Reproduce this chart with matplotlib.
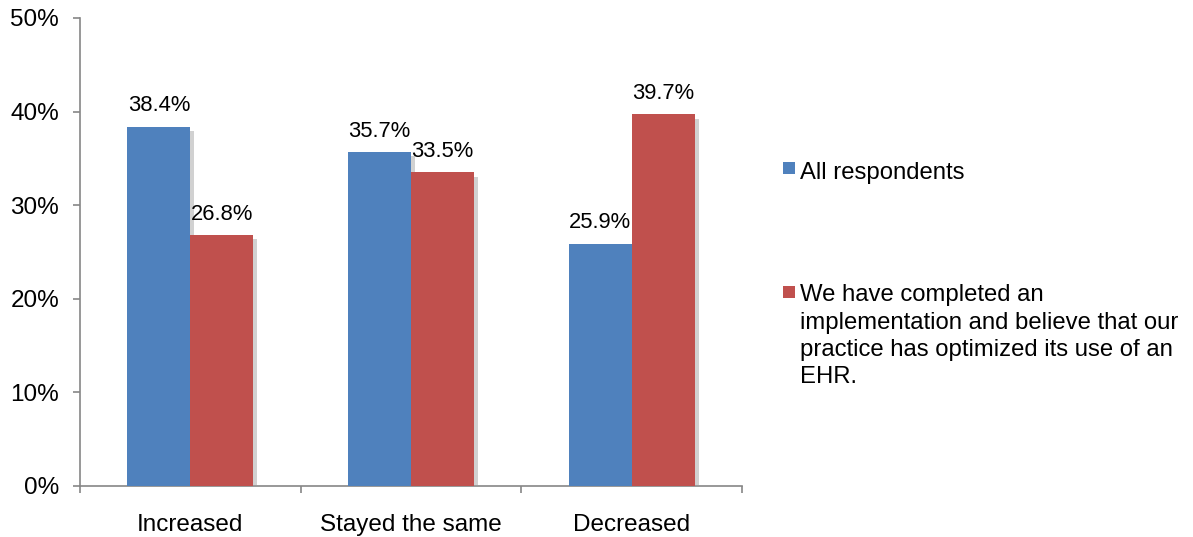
import matplotlib
matplotlib.use("Agg")
import matplotlib.pyplot as plt
import matplotlib.patheffects as pe
from matplotlib.patches import Rectangle
import numpy as np

categories = ["Increased", "Stayed the same", "Decreased"]
all_respondents = [38.4, 35.7, 25.9]
optimized = [26.8, 33.5, 39.7]
series_names = ["All respondents",
                "We have completed an\nimplementation and believe that our\npractice has optimized its use of an\nEHR."]
yticks = [0, 10, 20, 30, 40, 50]

BLUE = "#4F81BD"
RED = "#C0504D"
GRID = "#868686"

plt.rcParams['font.family'] = ['Liberation Sans', 'DejaVu Sans']

fig = plt.figure(figsize=(11.93, 5.37), dpi=100)
ax = fig.add_axes([80/1193, 1-486/537, (742-80)/1193, (486-18)/537])

x = np.arange(len(categories))
w = 0.285
shadow = [pe.SimplePatchShadow(offset=(3, -3), shadow_rgbFace="#9a9a9a", alpha=0.45), pe.Normal()]
b1 = ax.bar(x - w/2, all_respondents, w, color=BLUE, path_effects=shadow, zorder=3)
b2 = ax.bar(x + w/2, optimized, w, color=RED, path_effects=shadow, zorder=3)

for bars, vals in ((b1, all_respondents), (b2, optimized)):
    for r, v in zip(bars, vals):
        ax.annotate(f"{v:.1f}%", (r.get_x() + r.get_width()/2, v),
                    xytext=(0, 11), textcoords="offset points",
                    ha="center", va="baseline", fontsize=15.8, color="black")

ax.set_xlim(-0.5, len(categories) - 0.5)
ax.set_ylim(0, 50)
ax.set_yticks(yticks)
ax.set_yticklabels([f"{t}%" for t in yticks])
ax.set_xticks(np.arange(len(categories) + 1) - 0.5)
ax.set_xticklabels([])
ax.set_xticks(x, minor=True)
ax.set_xticklabels(categories, minor=True)
ax.tick_params(axis="x", which="major", direction="out", length=5, color=GRID, width=1.2)
ax.tick_params(axis="x", which="minor", length=0, pad=20.5, labelsize=17.5)
ax.tick_params(axis="y", direction="out", length=5, color=GRID, width=1.2, pad=10, labelsize=17.5)
for s in ("top", "right"):
    ax.spines[s].set_visible(False)
for s in ("left", "bottom"):
    ax.spines[s].set_color(GRID)
    ax.spines[s].set_linewidth(1.2)

# legend drawn manually at the right
leg_items = [(BLUE, series_names[0], 168, 162.5), (RED, series_names[1], 292, 284.5)]
for color, label, sq_px, top_px in leg_items:
    fig.patches.append(Rectangle((783/1193, 1-(sq_px+6)/537), 12/1193, 12/537,
                                 transform=fig.transFigure, facecolor=color, edgecolor="none"))
    fig.text(800/1193, 1-top_px/537, label, ha="left", va="top", fontsize=17.2,
             linespacing=1.3, color="black")

fig.savefig("out.png", dpi=100)
